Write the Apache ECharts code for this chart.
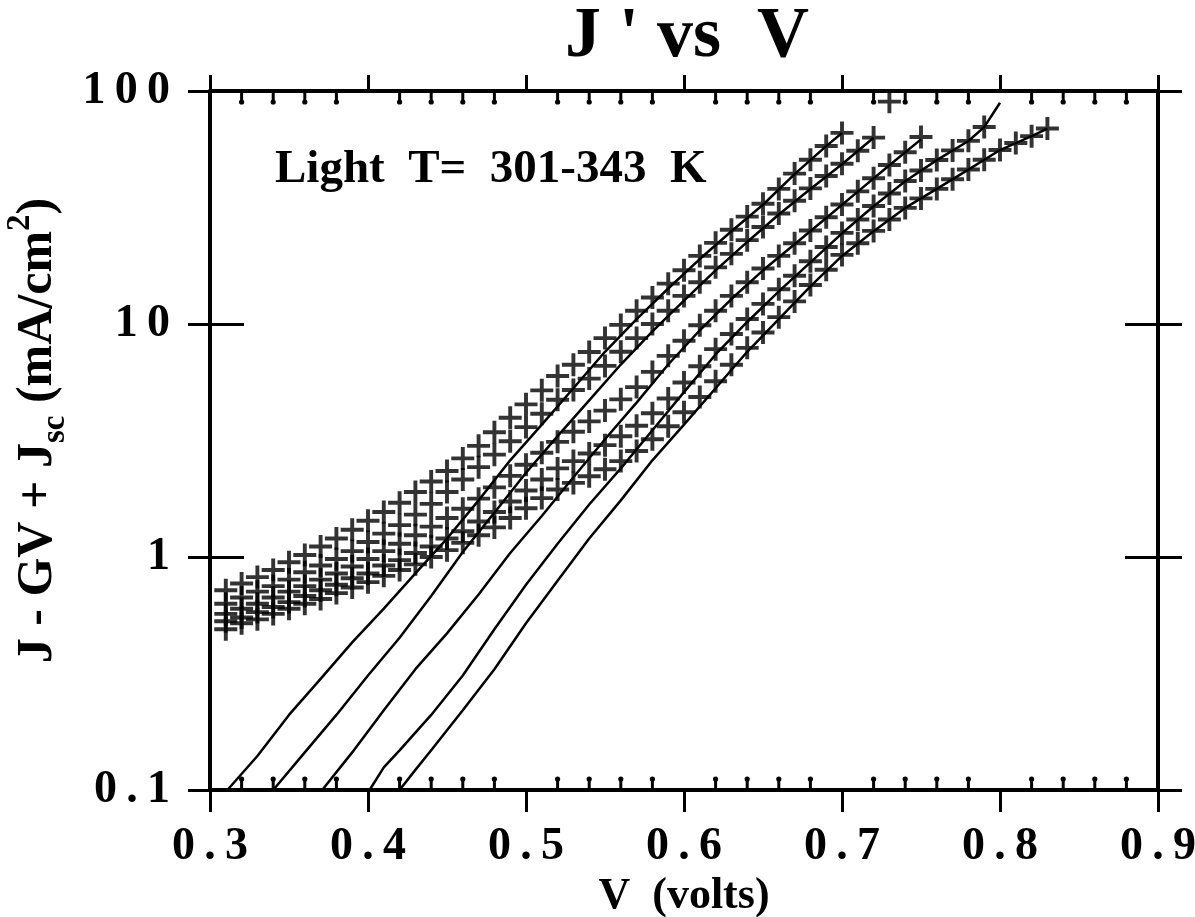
<!DOCTYPE html>
<html>
<head>
<meta charset="utf-8">
<title>J' vs V</title>
<script src="https://cdn.jsdelivr.net/npm/echarts@6/dist/echarts.min.js"></script>
<style>
  html, body { margin: 0; padding: 0; background: #fff; }
  #chart { width: 1195px; height: 917px; }
</style>
</head>
<body>
<div id="chart"></div>
<script>
// measured points, one voltage grid shared by all five temperatures
const volts = [0.31, 0.32, 0.33, 0.34, 0.35, 0.36, 0.37, 0.38, 0.39, 0.40,
  0.41, 0.42, 0.43, 0.44, 0.45, 0.46, 0.47, 0.48, 0.49, 0.50,
  0.51, 0.52, 0.53, 0.54, 0.55, 0.56, 0.57, 0.58, 0.59, 0.60,
  0.61, 0.62, 0.63, 0.64, 0.65, 0.66, 0.67, 0.68, 0.69, 0.70,
  0.71, 0.72, 0.73, 0.74, 0.75, 0.76, 0.77, 0.78, 0.79, 0.80,
  0.81, 0.82, 0.83]

// J - GV + Jsc (mA/cm2), highest curve first
const jA = [0.72, 0.77, 0.82, 0.88, 0.95, 1.02, 1.11, 1.20, 1.31, 1.43,
  1.56, 1.71, 1.90, 2.11, 2.34, 2.65, 3.0, 3.43, 3.96, 4.52,
  5.19, 5.98, 6.69, 7.58, 8.7, 9.91, 11.4, 13.0, 14.9, 17.0,
  19.6, 22.3, 25.4, 28.9, 32.8, 38.0, 44.2, 50.7, 58.1, 66.1]
const jB = [0.63, 0.67, 0.71, 0.75, 0.80, 0.86, 0.92, 0.98, 1.06, 1.16,
  1.26, 1.37, 1.52, 1.69, 1.90, 2.15, 2.43, 2.75, 3.14, 3.61,
  4.12, 4.73, 5.21, 5.83, 6.61, 7.6, 8.7, 10.0, 11.4, 13.2,
  15.1, 17.5, 20.0, 22.9, 26.1, 29.8, 33.8, 38.2, 43.2, 48.7,
  55.4, 63.1, 90]
const jC = [0.57, 0.60, 0.63, 0.67, 0.71, 0.75, 0.80, 0.85, 0.91, 0.98,
  1.06, 1.14, 1.24, 1.35, 1.47, 1.61, 1.78, 1.99, 2.23, 2.49,
  2.80, 3.12, 3.45, 3.82, 4.25, 4.75, 5.36, 6.23, 7.30, 8.48,
  9.88, 11.4, 13.2, 15.1, 17.3, 19.6, 22.2, 25.2, 28.7, 32.6,
  37.1, 42.2, 48.1, 54.6, 63.5]
const jD = [0.53, 0.55, 0.58, 0.61, 0.64, 0.68, 0.72, 0.76, 0.81, 0.85,
  0.92, 0.97, 1.04, 1.11, 1.20, 1.29, 1.42, 1.56, 1.73, 1.93,
  2.15, 2.40, 2.58, 2.78, 3.02, 3.30, 3.66, 4.14, 4.79, 5.61,
  6.59, 7.80, 9.06, 10.5, 12.2, 14.1, 16.1, 18.6, 21.4, 24.6,
  28.1, 32.1, 36.3, 41.1, 45.6, 50.6, 55.6, 61.1, 70.1]
const jE = [0.49, 0.52, 0.54, 0.57, 0.60, 0.63, 0.66, 0.70, 0.74, 0.78,
  0.83, 0.88, 0.93, 1.00, 1.07, 1.15, 1.24, 1.34, 1.47, 1.62,
  1.79, 1.95, 2.08, 2.22, 2.38, 2.58, 2.85, 3.20, 3.64, 4.18,
  4.86, 5.68, 6.69, 7.9, 9.2, 10.7, 12.5, 14.7, 17.1, 19.8,
  22.2, 25.1, 28.1, 31.5, 34.6, 38.0, 41.8, 46.0, 50.7, 55.8,
  59.8, 64.0, 69.0]

// fitted diode curves (solid lines)
const fitV1 = [0.311, 0.33, 0.35, 0.37, 0.39, 0.41, 0.43, 0.45, 0.47, 0.49, 0.51, 0.53, 0.55, 0.57, 0.59, 0.61, 0.63, 0.65, 0.67, 0.69, 0.70]
const fitJ1 = [0.1, 0.14, 0.21, 0.30, 0.43, 0.60, 0.85, 1.2, 1.75, 2.6, 3.7, 5.3, 7.6, 10.5, 14.2, 19, 25, 32.5, 44, 58, 66]
const fitV2 = [0.34, 0.36, 0.38, 0.40, 0.42, 0.44, 0.46, 0.48, 0.50, 0.52, 0.54, 0.56, 0.58, 0.60, 0.62, 0.64, 0.66, 0.68, 0.70, 0.72]
const fitJ2 = [0.1, 0.145, 0.21, 0.31, 0.45, 0.68, 1.05, 1.55, 2.3, 3.3, 4.7, 6.7, 9.3, 12.6, 17, 22.5, 29.5, 38, 48.5, 63]
const fitV3 = [0.371, 0.39, 0.41, 0.43, 0.45, 0.47, 0.49, 0.51, 0.53, 0.55, 0.57, 0.59, 0.61, 0.63, 0.65, 0.67, 0.69, 0.71, 0.73, 0.75]
const fitJ3 = [0.1, 0.145, 0.22, 0.33, 0.47, 0.69, 1.04, 1.5, 2.2, 3.2, 4.6, 6.7, 9.4, 12.8, 17, 22, 28.5, 37, 48, 62]
const fitV4 = [0.401, 0.41, 0.42, 0.44, 0.46, 0.48, 0.50, 0.52, 0.54, 0.56, 0.58, 0.60, 0.62, 0.64, 0.66, 0.68, 0.70, 0.72, 0.74, 0.76, 0.78, 0.79, 0.80]
const fitJ4 = [0.1, 0.125, 0.148, 0.21, 0.31, 0.49, 0.76, 1.14, 1.68, 2.4, 3.5, 5.1, 7.4, 10.2, 13.8, 18.4, 24.5, 32, 41, 50.5, 61, 70, 89]
const fitV5 = [0.42, 0.43, 0.44, 0.46, 0.48, 0.50, 0.52, 0.54, 0.56, 0.58, 0.60, 0.62, 0.64, 0.66, 0.68, 0.70, 0.72, 0.74, 0.76, 0.78, 0.80, 0.82, 0.83]
const fitJ5 = [0.1, 0.122, 0.148, 0.22, 0.33, 0.52, 0.79, 1.2, 1.75, 2.6, 3.7, 5.3, 7.6, 10.5, 14.5, 19.6, 25, 31.5, 38, 46, 55.8, 64, 69]

const xTickLabels = ['0.3', '0.4', '0.5', '0.6', '0.7', '0.8', '0.9']
const yTickLabels = ['0.1', '1', '10', '100']
// small inward ticks every 0.02 V on the top and bottom frame
const xMinorTicks = [0.32, 0.34, 0.36, 0.38, 0.42, 0.44, 0.46, 0.48, 0.52, 0.54, 0.56, 0.58,
  0.62, 0.64, 0.66, 0.68, 0.72, 0.74, 0.76, 0.78, 0.82, 0.84, 0.86, 0.88]

const serif = '"Liberation Serif", "Times New Roman", serif'
const plus = 'path://M8.3,0H11.7V8.3H20V11.7H11.7V20H8.3V11.7H0V8.3H8.3Z'

const spaced = s => s.split('').join('\u2009')

const pair = (xs, ys) => ys.map((y, i) => [xs[i], y])

const crossSeries = ys => ({
  type: 'scatter',
  data: pair(volts, ys),
  symbol: plus,
  symbolSize: [23, 23],
  itemStyle: { color: '#000' },
  silent: true
})

const fitSeries = (xs, ys) => ({
  type: 'line',
  data: pair(xs, ys),
  showSymbol: false,
  smooth: false,
  lineStyle: { color: '#000', width: 2.5 },
  silent: true
})

function yTickValue (i) { return Number(yTickLabels[i]) }

// minor ticks hang from the frame at the axis ends (0.1 and 100)
const minorTickSeries = {
  type: 'custom',
  data: xMinorTicks.map(v => [v, 1]),
  clip: false,
  silent: true,
  renderItem: (params, api) => {
    const b = api.coord([api.value(0), yTickValue(0)])
    const t = api.coord([api.value(0), yTickValue(3)])
    const tick = (x, y0, y1) => [
      { type: 'line', shape: { x1: x, y1: y0, x2: x, y2: y1 }, style: { stroke: '#000', lineWidth: 3 } },
      { type: 'circle', shape: { cx: x, cy: y1, r: 2.6 }, style: { fill: '#000' } }
    ]
    return { type: 'group', children: tick(b[0], b[1], b[1] - 11).concat(tick(t[0], t[1], t[1] + 11)) }
  }
}

const xBase = { type: 'value', min: 0.3, max: 0.9, interval: 0.1, splitLine: { show: false } }
const yBase = { type: 'log', logBase: 10, min: 0.1, max: 100, splitLine: { show: false } }
const black = { color: '#000', width: 3 }

const chart = echarts.init(document.getElementById('chart'))

chart.setOption({
  animation: false,
  backgroundColor: '#fff',
  title: {
    text: "J ' vs  V",
    left: 682,
    top: -4,
    textAlign: 'center',
    textStyle: { fontFamily: serif, fontWeight: 'bold', fontSize: 72, color: '#000' }
  },
  grid: { left: 210, right: 37, top: 91, bottom: 127, outerBoundsMode: 'none', containLabel: false },
  graphic: [{
    type: 'text',
    left: 275,
    top: 146,
    style: { text: 'Light  T=  301-343  K', font: 'bold 47px ' + serif, fill: '#000' }
  }],
  xAxis: [
    Object.assign({}, xBase, {
      position: 'bottom',
      axisLine: { onZero: false, lineStyle: { color: '#000', width: 4 } },
      axisTick: { inside: false, length: 22, lineStyle: black },
      axisLabel: {
        margin: 34, color: '#000', fontFamily: serif, fontWeight: 'bold', fontSize: 46,
        formatter: v => spaced(xTickLabels[Math.round((v - 0.3) * 10)])
      },
      name: 'V  (volts)',
      nameLocation: 'middle',
      nameGap: 82,
      nameTextStyle: { color: '#000', fontFamily: serif, fontWeight: 'bold', fontSize: 44 }
    }),
    Object.assign({}, xBase, {
      position: 'top',
      axisLine: { onZero: false, lineStyle: { color: '#000', width: 4 } },
      axisTick: { inside: false, length: 16, lineStyle: black },
      axisLabel: { show: false }
    })
  ],
  yAxis: [
    Object.assign({}, yBase, {
      position: 'left',
      axisLine: { onZero: false, lineStyle: { color: '#000', width: 4 } },
      axisTick: { inside: false, length: 22, lineStyle: black },
      axisLabel: {
        margin: 40, color: '#000', fontFamily: serif, fontWeight: 'bold', fontSize: 46,
        formatter: v => spaced(yTickLabels[Math.round(Math.log10(v)) + 1])
      },
      name: '{m|J - GV + J}{sub|sc}{m| (mA/cm}{sup|2}{m|)}',
      nameLocation: 'middle',
      nameRotate: 90,
      nameGap: 128,
      nameTextStyle: {
        padding: [0, 0, 0, 20],
        rich: {
          m: { fontFamily: serif, fontWeight: 'bold', fontSize: 50, color: '#000', lineHeight: 68, verticalAlign: 'middle' },
          sub: { fontFamily: serif, fontWeight: 'bold', fontSize: 33, color: '#000', lineHeight: 44, verticalAlign: 'bottom' },
          sup: { fontFamily: serif, fontWeight: 'bold', fontSize: 33, color: '#000', lineHeight: 48, verticalAlign: 'top' }
        }
      }
    }),
    Object.assign({}, yBase, {
      position: 'left',
      axisLine: { show: false, onZero: false },
      axisTick: { inside: true, length: 34, lineStyle: black },
      axisLabel: { show: false }
    }),
    Object.assign({}, yBase, {
      position: 'right',
      axisLine: { onZero: false, lineStyle: { color: '#000', width: 4 } },
      axisTick: { inside: false, length: 24, lineStyle: black },
      axisLabel: { show: false }
    }),
    Object.assign({}, yBase, {
      position: 'right',
      axisLine: { show: false, onZero: false },
      axisTick: { inside: true, length: 33, lineStyle: black },
      axisLabel: { show: false }
    })
  ],
  series: [
    fitSeries(fitV1, fitJ1),
    fitSeries(fitV2, fitJ2),
    fitSeries(fitV3, fitJ3),
    fitSeries(fitV4, fitJ4),
    fitSeries(fitV5, fitJ5),
    crossSeries(jA),
    crossSeries(jB),
    crossSeries(jC),
    crossSeries(jD),
    crossSeries(jE),
    minorTickSeries
  ]
})

window.addEventListener('resize', () => chart.resize())
</script>
</body>
</html>
